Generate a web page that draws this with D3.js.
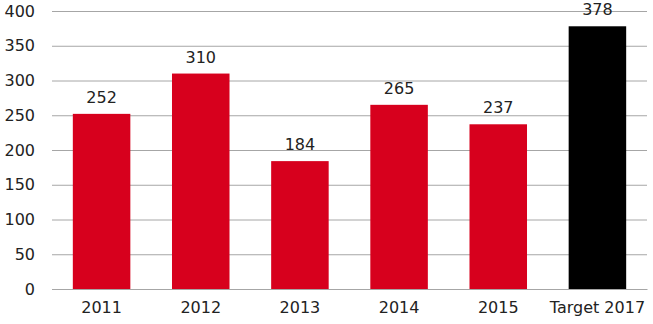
<!DOCTYPE html>
<html>
<head>
<meta charset="utf-8">
<script src="https://cdn.jsdelivr.net/npm/d3@7"></script>
<style>
    body { margin: 0; background: #fff; }
    text { font-family: 'DejaVu Sans', sans-serif; fill: #222; }
</style>
</head>
<body>
<div id="chart"></div>
<script>
var categories = ['2011', '2012', '2013', '2014', '2015', 'Target 2017'];
var values = [252, 310, 184, 265, 237, 378];
var barColors = ['#d7001d', '#d7001d', '#d7001d', '#d7001d', '#d7001d', '#000000'];
var yTicks = [0, 50, 100, 150, 200, 250, 300, 350, 400];

var fullwidth = 653;
var fullheight = 324;
var margin = { top: 11, right: 6, bottom: 35, left: 52 };
var width = fullwidth - margin.left - margin.right;
var height = fullheight - margin.top - margin.bottom;

var svg = d3.select('#chart')
    .append('svg')
    .attr('width', fullwidth)
    .attr('height', fullheight);

var g = svg.append('g')
    .attr('transform', 'translate(' + margin.left + ',' + margin.top + ')');

var x = d3.scaleBand()
    .domain(categories)
    .range([0, width])
    .paddingInner(0.42)
    .paddingOuter(0.21);

var y = d3.scaleLinear()
    .domain([0, 400])
    .range([height, 0]);

// gridlines + y labels
var yAxis = g.append('g')
    .call(d3.axisLeft(y).tickValues(yTicks).tickSize(-width).tickPadding(17));
yAxis.select('.domain').remove();
yAxis.selectAll('line').attr('stroke', '#a6a6a6').attr('stroke-width', 1);
yAxis.selectAll('text').style('font-size', '16px').style('font-family', "'DejaVu Sans', sans-serif").attr('fill', '#222');

g.selectAll('.bar')
    .data(values)
    .enter()
    .append('rect')
    .attr('class', 'bar')
    .attr('x', function(d, i) { return x(categories[i]); })
    .attr('y', function(d) { return y(d); })
    .attr('width', x.bandwidth())
    .attr('height', function(d) { return height - y(d); })
    .attr('fill', function(d, i) { return barColors[i]; });

g.selectAll('.bar-label')
    .data(values)
    .enter()
    .append('text')
    .attr('class', 'bar-label')
    .attr('x', function(d, i) { return x(categories[i]) + x.bandwidth() / 2; })
    .attr('y', function(d) { return y(d) - 11; })
    .attr('text-anchor', 'middle')
    .style('font-size', '16px')
    .text(function(d) { return d; });

// x axis
var xAxis = g.append('g')
    .attr('transform', 'translate(0,' + height + ')')
    .call(d3.axisBottom(x).tickSize(0).tickPadding(13));
xAxis.select('.domain').attr('stroke', '#a6a6a6');
xAxis.selectAll('text').style('font-size', '16px').style('font-family', "'DejaVu Sans', sans-serif").attr('fill', '#222');
</script>
</body>
</html>
